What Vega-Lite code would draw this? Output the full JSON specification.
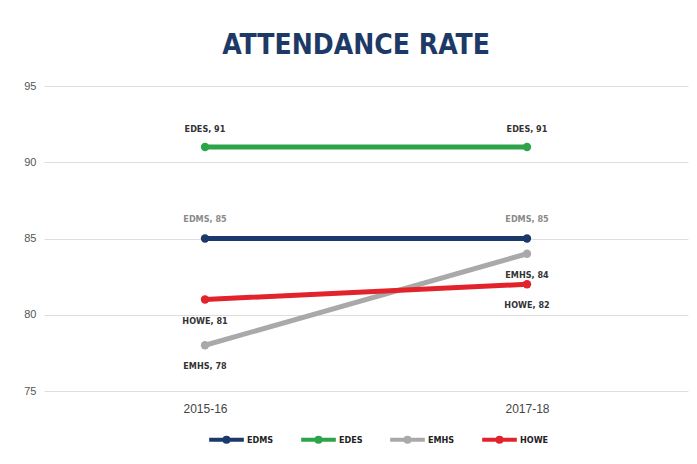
{
  "$schema": "https://vega.github.io/schema/vega-lite/v6.json",
  "autosize": "none",
  "width": 644,
  "height": 305,
  "padding": {"left": 44, "top": 86, "right": 9, "bottom": 73},
  "background": "white",
  "title": {
    "text": "ATTENDANCE RATE",
    "font": "DejaVu Sans Condensed, Liberation Sans Narrow, DejaVu Sans",
    "fontSize": 28,
    "fontWeight": "bold",
    "color": "#1d3a66",
    "anchor": "middle",
    "frame": "group",
    "dx": -10,
    "offset": 20
  },
  "data": {
    "values": [
      {"school": "EDMS", "year": "2015-16", "rate": 85, "label": "EDMS, 85"},
      {"school": "EDMS", "year": "2017-18", "rate": 85, "label": "EDMS, 85"},
      {"school": "EDES", "year": "2015-16", "rate": 91, "label": "EDES, 91"},
      {"school": "EDES", "year": "2017-18", "rate": 91, "label": "EDES, 91"},
      {"school": "EMHS", "year": "2015-16", "rate": 78, "label": "EMHS, 78"},
      {"school": "EMHS", "year": "2017-18", "rate": 84, "label": "EMHS, 84"},
      {"school": "HOWE", "year": "2015-16", "rate": 81, "label": "HOWE, 81"},
      {"school": "HOWE", "year": "2017-18", "rate": 82, "label": "HOWE, 82"}
    ]
  },
  "encoding": {
    "x": {
      "field": "year", "type": "ordinal",
      "scale": {"type": "point", "padding": 0.5},
      "axis": {"title": null, "labelAngle": 0, "domain": false, "ticks": false, "labelPadding": 12,
               "labelFont": "Liberation Sans, Arial", "labelFontSize": 12, "labelColor": "#444"}
    },
    "y": {
      "field": "rate", "type": "quantitative",
      "scale": {"domain": [75, 95], "nice": false, "zero": false},
      "axis": {"title": null, "values": [75, 80, 85, 90, 95], "domain": false, "ticks": false, "labelPadding": 8,
               "labelFont": "Liberation Sans, Arial", "labelFontSize": 11, "labelColor": "#555",
               "gridColor": "#dedede", "gridWidth": 1}
    }
  },
  "layer": [
    {
      "mark": {"type": "line", "strokeWidth": 5, "strokeCap": "round", "point": {"filled": true, "size": 70}},
      "encoding": {
        "color": {
          "field": "school", "type": "nominal",
          "scale": {"domain": ["EDMS", "EDES", "EMHS", "HOWE"], "range": ["#1b3a6b", "#2ea44a", "#a9a9a9", "#e3232b"]},
          "legend": {
            "title": null, "orient": "none", "direction": "horizontal",
            "legendX": 163, "legendY": 334,
            "symbolType": "M-1,0H1M-0.12,0A0.12,0.12 0 1,0 0.12,0A0.12,0.12 0 1,0 -0.12,0",
            "symbolSize": 1200, "symbolStrokeWidth": 4,
            "labelFont": "DejaVu Sans Condensed, Liberation Sans Narrow, DejaVu Sans",
            "labelFontSize": 9, "labelFontWeight": "bold", "labelColor": "#222",
            "labelOffset": 1, "columnPadding": 19
          }
        }
      }
    },
    {
      "transform": [{"filter": "datum.school === 'EDES'"}],
      "mark": {"type": "text", "dy": -18, "fontSize": 9, "fontWeight": "bold", "color": "#333",
               "font": "DejaVu Sans Condensed, Liberation Sans Narrow, DejaVu Sans"},
      "encoding": {"text": {"field": "label"}}
    },
    {
      "transform": [{"filter": "datum.school === 'EDMS'"}],
      "mark": {"type": "text", "dy": -20, "fontSize": 9, "fontWeight": "bold", "color": "#8a8a8a",
               "font": "DejaVu Sans Condensed, Liberation Sans Narrow, DejaVu Sans"},
      "encoding": {"text": {"field": "label"}}
    },
    {
      "transform": [{"filter": "datum.school === 'EMHS' || datum.school === 'HOWE'"}],
      "mark": {"type": "text", "dy": 21, "fontSize": 9, "fontWeight": "bold", "color": "#333",
               "font": "DejaVu Sans Condensed, Liberation Sans Narrow, DejaVu Sans"},
      "encoding": {"text": {"field": "label"}}
    }
  ],
  "config": {"view": {"stroke": null}}
}
